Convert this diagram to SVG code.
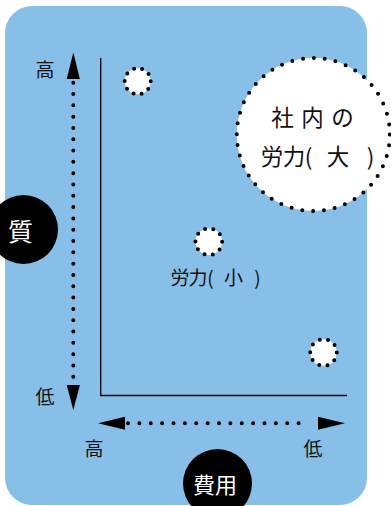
<svg xmlns="http://www.w3.org/2000/svg" width="391" height="506" viewBox="0 0 391 506">
  <style>
    .lbl { font-family: "Noto Sans CJK JP", "Noto Sans", sans-serif; fill: #111; text-anchor: middle; dominant-baseline: central; }
    .wlbl { font-family: "Noto Sans CJK JP", "Noto Sans", sans-serif; fill: #fff; text-anchor: middle; dominant-baseline: central; }
    .dotline { stroke: #000; stroke-width: 4; stroke-linecap: round; fill: none; }
    .dotcircle { fill: #fff; stroke: #000; stroke-width: 4; stroke-linecap: round; }
    .axis { stroke: #000; stroke-width: 1.3; fill: none; }
  </style>
  <rect id="background" x="5" y="6" width="362" height="499" rx="27" ry="27" fill="#88bfe8"/>

  <g id="connectors">
    <line class="axis" x1="100.7" y1="58" x2="100.7" y2="395.5"/>
    <line class="axis" x1="100" y1="395.5" x2="347" y2="395.5"/>
    <line class="dotline" x1="73.3" y1="82.7" x2="73.3" y2="377" stroke-dasharray="0 11.31"/>
    <polygon points="73.3,52.5 66.7,79 79.9,79" fill="#000"/>
    <polygon points="73.3,410 66.7,385 79.9,385" fill="#000"/>
    <line class="dotline" x1="128" y1="423.3" x2="310" y2="423.3" stroke-dasharray="0 11.375"/>
    <polygon points="98,423.3 125,416.8 125,429.8" fill="#000"/>
    <polygon points="345,423.3 318,416.8 318,429.8" fill="#000"/>
  </g>

  <g id="label-quality-high"><text class="lbl" x="45" y="68" font-size="19">高</text></g>
  <g id="label-quality-low"><text class="lbl" x="45" y="395" font-size="19">低</text></g>
  <g id="label-cost-high"><text class="lbl" x="94" y="447" font-size="19">高</text></g>
  <g id="label-cost-low"><text class="lbl" x="313" y="447" font-size="19">低</text></g>

  <g id="node-quality">
    <circle cx="23.5" cy="229.5" r="34.5" fill="#000"/>
    <text class="wlbl" x="20.5" y="230" font-size="25">質</text>
  </g>
  <g id="node-cost">
    <circle cx="217.5" cy="483.5" r="34.5" fill="#000"/>
    <text class="wlbl" x="215" y="482.5" font-size="22">費用</text>
  </g>

  <g id="node-point1">
    <circle class="dotcircle" cx="137.7" cy="81.3" r="13" stroke-dasharray="0 8.168"/>
  </g>
  <g id="node-point2">
    <circle class="dotcircle" cx="208.8" cy="241.7" r="13.3" stroke-dasharray="0 8.357"/>
    <text class="lbl" x="180 198 210.5 222 233.5 245 257.5" y="276" font-size="19" xml:space="preserve">労力( 小 )</text>
  </g>
  <g id="node-point3">
    <circle class="dotcircle" cx="323.5" cy="352.5" r="13.3" stroke-dasharray="0 8.357"/>
  </g>
  <g id="node-large">
    <circle class="dotcircle" cx="313.3" cy="134.5" r="76.5" stroke-dasharray="0 10.924"/>
    <text class="lbl" x="282.5 312.5 342.5" y="115.5" font-size="22.5">社内の</text>
    <text class="lbl" x="272 294 308.5 322 338 354 370.5" y="154.5" font-size="22.5" xml:space="preserve">労力( 大 )</text>
  </g>
</svg>
